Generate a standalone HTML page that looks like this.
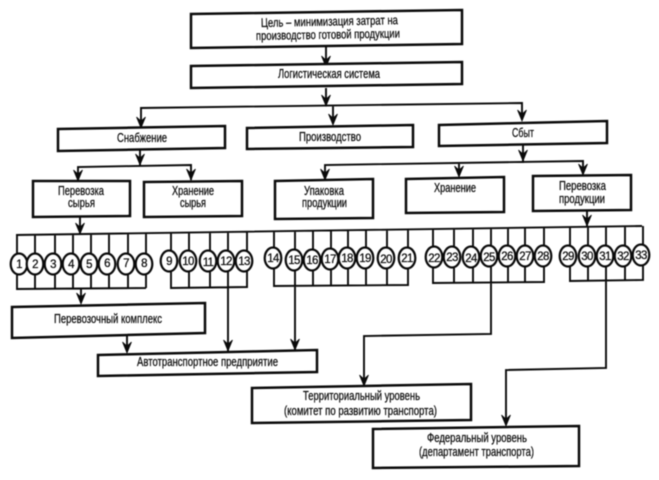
<!DOCTYPE html>
<html><head><meta charset="utf-8"><style>
html,body{margin:0;padding:0;background:#fff}
svg{display:block;filter:blur(.4px)}
text{font-family:"Liberation Sans",sans-serif;font-size:12.5px;fill:#0a0a0a;stroke:#0a0a0a;stroke-width:.25}
.b{fill:#fff;stroke:#0a0a0a;stroke-width:2.5}
.l{fill:none;stroke:#0a0a0a;stroke-width:1.9}
.c{fill:#fff;stroke:#0a0a0a;stroke-width:2.2}
text.n{font-size:11.5px;text-anchor:middle;letter-spacing:-.7px}
</style></head><body>
<svg width="659" height="480" viewBox="0 0 659 480" xmlns="http://www.w3.org/2000/svg">
<defs><polygon id="a" points="0,0 -4.5,-11 0,-7 4.5,-11" fill="#0a0a0a" stroke="#0a0a0a" stroke-width=".8"/></defs>
<rect width="659" height="480" fill="#fff"/>

<!-- connectors -->
<path class="l" d="M326 47V66M326 88V106M141 127V108L522 103V120M333 106V124
M140 150V166M78 180V167L191 165V180
M523 145V163M325 179V165L583 161V174M459 163V176
M80 217V234M587 211V226
M16 235L642 226
M17 235V289L146 288M35 234V289M55 234V289M73 234V289M91 234V289M109 234V289M128 233V289M146 233V288
M171 233V288L247 287V232M189 233V288M210 232V288M228 232V351M247 232V287
M274 231V286L408 285V229M295 231V350M313 231V286M331 230V286M348 230V286M366 230V286M387 230V286
M433 229V283L544 282V227M454 228V283M473 228V283M491 228V334L364 336V385M508 228V283M525 227V282
M570 227V281L643 280V226M588 227V281M606 226V368L506 370V425M625 226V281
M81 289V303M127 336V352"/>
<use href="#a" x="326" y="67"/><use href="#a" x="326" y="106"/>
<use href="#a" x="141" y="128"/><use href="#a" x="333" y="125"/><use href="#a" x="522" y="121"/>
<use href="#a" x="140" y="165"/><use href="#a" x="78" y="181"/><use href="#a" x="191" y="180"/>
<use href="#a" x="523" y="161"/><use href="#a" x="325" y="180"/><use href="#a" x="459" y="177"/><use href="#a" x="583" y="175"/>
<use href="#a" x="80" y="234"/><use href="#a" x="587" y="226"/>
<use href="#a" x="81" y="304"/><use href="#a" x="127" y="353"/><use href="#a" x="228" y="351"/><use href="#a" x="295" y="350"/>
<use href="#a" x="364" y="386"/><use href="#a" x="506" y="426"/>

<!-- boxes -->
<polygon class="b" points="191,14 462,10 462,44 191,48"/>
<polygon class="b" points="191,66 462,62 462,84 191,88"/>
<polygon class="b" points="58,129 225,126 225,148 58,151"/>
<polygon class="b" points="247,128 413,125 413,147 247,149"/>
<polygon class="b" points="439,125 607,121 607,143 439,146"/>
<polygon class="b" points="33,181 130,181 130,216 33,217"/>
<polygon class="b" points="144,182 242,181 242,216 144,217"/>
<polygon class="b" points="275,181 373,179 373,218 275,219"/>
<polygon class="b" points="406,179 504,177 504,212 406,213"/>
<polygon class="b" points="533,176 631,175 631,210 533,211"/>
<polygon class="b" points="12,307 205,303 205,333 12,338"/>
<polygon class="b" points="98,355 317,350 317,372 98,376"/>
<polygon class="b" points="252,388 471,384 471,420 252,423"/>
<polygon class="b" points="373,429 579,426 579,466 373,468"/>

<!-- circles -->
<g class="c">
<ellipse cx="19" cy="264" rx="8.3" ry="10.5"/><ellipse cx="35" cy="264" rx="8.3" ry="10.5"/><ellipse cx="53" cy="264" rx="8.3" ry="10.5"/><ellipse cx="71" cy="264" rx="8.3" ry="10.5"/><ellipse cx="89" cy="264" rx="8.3" ry="10.5"/><ellipse cx="107" cy="264" rx="8.3" ry="10.5"/><ellipse cx="126" cy="264" rx="8.3" ry="10.5"/><ellipse cx="144" cy="264" rx="8.3" ry="10.5"/>
<ellipse cx="169" cy="261" rx="8.3" ry="10.5"/><ellipse cx="188" cy="261" rx="8.3" ry="10.5"/><ellipse cx="208" cy="261" rx="8.3" ry="10.5"/><ellipse cx="226" cy="261" rx="8.3" ry="10.5"/><ellipse cx="244" cy="261" rx="8.3" ry="10.5"/>
<ellipse cx="273" cy="258" rx="8.3" ry="10.5"/><ellipse cx="294" cy="260" rx="8.3" ry="10.5"/><ellipse cx="312" cy="260" rx="8.3" ry="10.5"/><ellipse cx="330" cy="259" rx="8.3" ry="10.5"/><ellipse cx="347" cy="258" rx="8.3" ry="10.5"/><ellipse cx="365" cy="258" rx="8.3" ry="10.5"/><ellipse cx="386" cy="258" rx="8.3" ry="10.5"/><ellipse cx="407" cy="258" rx="8.3" ry="10.5"/>
<ellipse cx="434" cy="257" rx="8.3" ry="10.5"/><ellipse cx="452" cy="257" rx="8.3" ry="10.5"/><ellipse cx="471" cy="257" rx="8.3" ry="10.5"/><ellipse cx="489" cy="256" rx="8.3" ry="10.5"/><ellipse cx="507" cy="256" rx="8.3" ry="10.5"/><ellipse cx="525" cy="256" rx="8.3" ry="10.5"/><ellipse cx="543" cy="256" rx="8.3" ry="10.5"/>
<ellipse cx="568" cy="256" rx="8.3" ry="10.5"/><ellipse cx="587" cy="256" rx="8.3" ry="10.5"/><ellipse cx="605" cy="256" rx="8.3" ry="10.5"/><ellipse cx="623" cy="256" rx="8.3" ry="10.5"/><ellipse cx="641" cy="255" rx="8.3" ry="10.5"/>
</g>

<!-- numbers -->
<g>
<text class="n" x="19" y="268">1</text><text class="n" x="35" y="268">2</text><text class="n" x="53" y="268">3</text><text class="n" x="71" y="268">4</text><text class="n" x="89" y="268">5</text><text class="n" x="107" y="267">6</text><text class="n" x="126" y="267">7</text><text class="n" x="144" y="267">8</text>
<text class="n" x="169" y="265">9</text><text class="n" x="188" y="265">10</text><text class="n" x="208" y="266">11</text><text class="n" x="226" y="265">12</text><text class="n" x="244" y="265">13</text>
<text class="n" x="273" y="262">14</text><text class="n" x="294" y="264">15</text><text class="n" x="312" y="264">16</text><text class="n" x="330" y="263">17</text><text class="n" x="347" y="262">18</text><text class="n" x="365" y="262">19</text><text class="n" x="386" y="263">20</text><text class="n" x="407" y="262">21</text>
<text class="n" x="434" y="262">22</text><text class="n" x="452" y="261">23</text><text class="n" x="471" y="262">24</text><text class="n" x="489" y="261">25</text><text class="n" x="507" y="260">26</text><text class="n" x="525" y="260">27</text><text class="n" x="543" y="260">28</text>
<text class="n" x="568" y="260">29</text><text class="n" x="587" y="260">30</text><text class="n" x="605" y="260">31</text><text class="n" x="623" y="260">32</text><text class="n" x="641" y="259">33</text>
</g>

<!-- labels -->
<g>
<text transform="rotate(-1.2 261 27)" x="261" y="27" textLength="137" lengthAdjust="spacingAndGlyphs">Цель – минимизация затрат на</text>
<text transform="rotate(-1 256 40)" x="256" y="40" textLength="144" lengthAdjust="spacingAndGlyphs">производство готовой продукции</text>
<text x="278" y="78" textLength="102" lengthAdjust="spacingAndGlyphs">Логистическая система</text>
<text x="117" y="142" textLength="50" lengthAdjust="spacingAndGlyphs">Снабжение</text>
<text x="299" y="141" textLength="62" lengthAdjust="spacingAndGlyphs">Производство</text>
<text x="512" y="137" textLength="22" lengthAdjust="spacingAndGlyphs">Сбыт</text>
<text x="58" y="195" textLength="46" lengthAdjust="spacingAndGlyphs">Перевозка</text>
<text x="68" y="207" textLength="27" lengthAdjust="spacingAndGlyphs">сырья</text>
<text x="172" y="195" textLength="42" lengthAdjust="spacingAndGlyphs">Хранение</text>
<text x="180" y="207" textLength="26" lengthAdjust="spacingAndGlyphs">сырья</text>
<text x="304" y="195" textLength="40" lengthAdjust="spacingAndGlyphs">Упаковка</text>
<text x="302" y="207" textLength="45" lengthAdjust="spacingAndGlyphs">продукции</text>
<text x="434" y="192" textLength="42" lengthAdjust="spacingAndGlyphs">Хранение</text>
<text x="559" y="190" textLength="47" lengthAdjust="spacingAndGlyphs">Перевозка</text>
<text x="559" y="203" textLength="46" lengthAdjust="spacingAndGlyphs">продукции</text>
<text x="54" y="323" textLength="108" lengthAdjust="spacingAndGlyphs">Перевозочный комплекс</text>
<text x="137" y="366" textLength="141" lengthAdjust="spacingAndGlyphs">Автотранспортное предприятие</text>
<text x="303" y="400" textLength="117" lengthAdjust="spacingAndGlyphs">Территориальный уровень</text>
<text x="284" y="415" textLength="153" lengthAdjust="spacingAndGlyphs">(комитет по развитию транспорта)</text>
<text x="427" y="442" textLength="100" lengthAdjust="spacingAndGlyphs">Федеральный уровень</text>
<text x="419" y="456" textLength="115" lengthAdjust="spacingAndGlyphs">(департамент транспорта)</text>
</g>
</svg>
</body></html>
